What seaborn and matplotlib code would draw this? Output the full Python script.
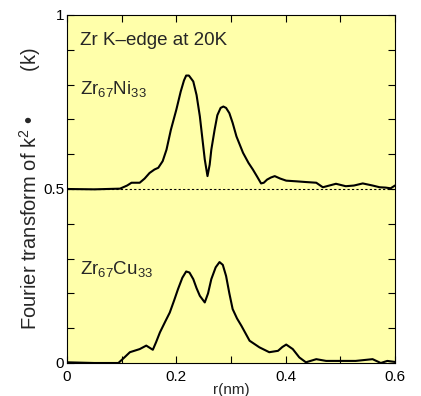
import matplotlib
matplotlib.use("Agg")
import matplotlib.pyplot as plt
import seaborn as sns
import numpy as np
import pandas as pd

# Zr67Ni33 (offset by 0.5 in the plot as read)
r_ni = [0.000, 0.050, 0.097, 0.110, 0.118, 0.133, 0.142, 0.151, 0.160, 0.167, 0.175, 0.182,
        0.190, 0.200, 0.208, 0.214, 0.218, 0.223, 0.231, 0.237, 0.243, 0.248, 0.252, 0.257,
        0.261, 0.264, 0.270, 0.275, 0.281, 0.286, 0.291, 0.297, 0.303, 0.310, 0.322, 0.332,
        0.340, 0.348, 0.355, 0.360, 0.366, 0.373, 0.380, 0.390, 0.401, 0.420, 0.437, 0.456,
        0.468, 0.480, 0.492, 0.510, 0.525, 0.541, 0.559, 0.572, 0.583, 0.592, 0.600]
ft_ni = [0.500, 0.499, 0.501, 0.510, 0.518, 0.518, 0.530, 0.546, 0.556, 0.561, 0.580, 0.613,
         0.670, 0.728, 0.780, 0.812, 0.826, 0.826, 0.809, 0.770, 0.709, 0.640, 0.585, 0.537,
         0.570, 0.613, 0.670, 0.712, 0.733, 0.737, 0.733, 0.718, 0.690, 0.651, 0.604, 0.575,
         0.556, 0.535, 0.516, 0.518, 0.527, 0.533, 0.537, 0.530, 0.524, 0.522, 0.520, 0.518,
         0.505, 0.510, 0.515, 0.508, 0.510, 0.516, 0.510, 0.505, 0.504, 0.502, 0.510]

# Zr67Cu33
r_cu = [0.000, 0.050, 0.094, 0.105, 0.115, 0.133, 0.145, 0.157, 0.163, 0.170, 0.180, 0.188,
        0.196, 0.203, 0.211, 0.218, 0.224, 0.231, 0.237, 0.243, 0.252, 0.258, 0.264, 0.272,
        0.279, 0.285, 0.291, 0.297, 0.303, 0.311, 0.319, 0.334, 0.352, 0.370, 0.386, 0.394,
        0.401, 0.413, 0.425, 0.437, 0.456, 0.474, 0.504, 0.528, 0.559, 0.574, 0.586, 0.600]
ft_cu = [0.002, 0.000, 0.000, 0.016, 0.031, 0.040, 0.050, 0.038, 0.060, 0.088, 0.120, 0.145,
         0.180, 0.212, 0.245, 0.263, 0.260, 0.241, 0.215, 0.193, 0.174, 0.200, 0.241, 0.275,
         0.290, 0.282, 0.250, 0.200, 0.155, 0.128, 0.107, 0.064, 0.045, 0.031, 0.035, 0.046,
         0.053, 0.040, 0.016, 0.002, 0.011, 0.006, 0.006, 0.006, 0.011, 0.000, 0.006, 0.003]

baseline_r = [0.0, 0.6]
baseline_y = [0.5, 0.5]

x_ticks = [0.0, 0.1, 0.2, 0.3, 0.4, 0.5, 0.6]
x_ticklabels = ["0", "", "0.2", "", "0.4", "", "0.6"]
y_ticks = [0.0, 0.1, 0.2, 0.3, 0.4, 0.5, 0.6, 0.7, 0.8, 0.9, 1.0]
y_ticklabels = ["0", "", "", "", "", "0.5", "", "", "", "", "1"]

sns.set_style("ticks")
plt.rcParams["font.family"] = ["Liberation Sans", "DejaVu Sans"]
plt.rcParams["mathtext.fontset"] = "custom"
plt.rcParams["mathtext.rm"] = "Liberation Sans"
plt.rcParams["mathtext.it"] = "Liberation Sans"

fig = plt.figure(figsize=(4.21, 3.96), dpi=100)
ax = fig.add_axes([67/421, 33/396, 328/421, 348/396])
ax.set_facecolor("#FFFFAA")

df_ni = pd.DataFrame({"r": r_ni, "ft": ft_ni})
df_cu = pd.DataFrame({"r": r_cu, "ft": ft_cu})
sns.lineplot(data=df_ni, x="r", y="ft", ax=ax, color="black", linewidth=1.5, sort=False)
sns.lineplot(data=df_cu, x="r", y="ft", ax=ax, color="black", linewidth=1.5, sort=False)
ax.plot(baseline_r, baseline_y, color="black", linewidth=0.8, linestyle=(0, (2, 2)))

ax.set_xlim(0, 0.6)
ax.set_ylim(0, 1)
ax.set_xticks(x_ticks)
ax.set_xticklabels(x_ticklabels)
ax.set_yticks(y_ticks)
ax.set_yticklabels(y_ticklabels)
ax.tick_params(direction="in", length=5, width=0.8, top=True, right=True,
               labelsize=11, colors="black")
ax.tick_params(axis="x", pad=5)
ax.tick_params(axis="y", pad=2)
for s in ax.spines.values():
    s.set_linewidth(0.8)
    s.set_color("black")

ax.set_xlabel("r(nm)", fontsize=11, labelpad=-0.5)
ax.set_ylabel("Fourier transform of k$^2$ \u2022        (k)", fontsize=14.5, labelpad=0)

ax.text(0.04, 0.914, "Zr K\u2013edge at 20K", transform=ax.transAxes, fontsize=13.5,
        va="baseline", ha="left")
ax.text(0.04, 0.774, "Zr$_{67}$Ni$_{33}$", transform=ax.transAxes, fontsize=13.5,
        va="baseline", ha="left")
ax.text(0.04, 0.255, "Zr$_{67}$Cu$_{33}$", transform=ax.transAxes, fontsize=13.5,
        va="baseline", ha="left")

fig.savefig("out.png", dpi=100, facecolor="white")
